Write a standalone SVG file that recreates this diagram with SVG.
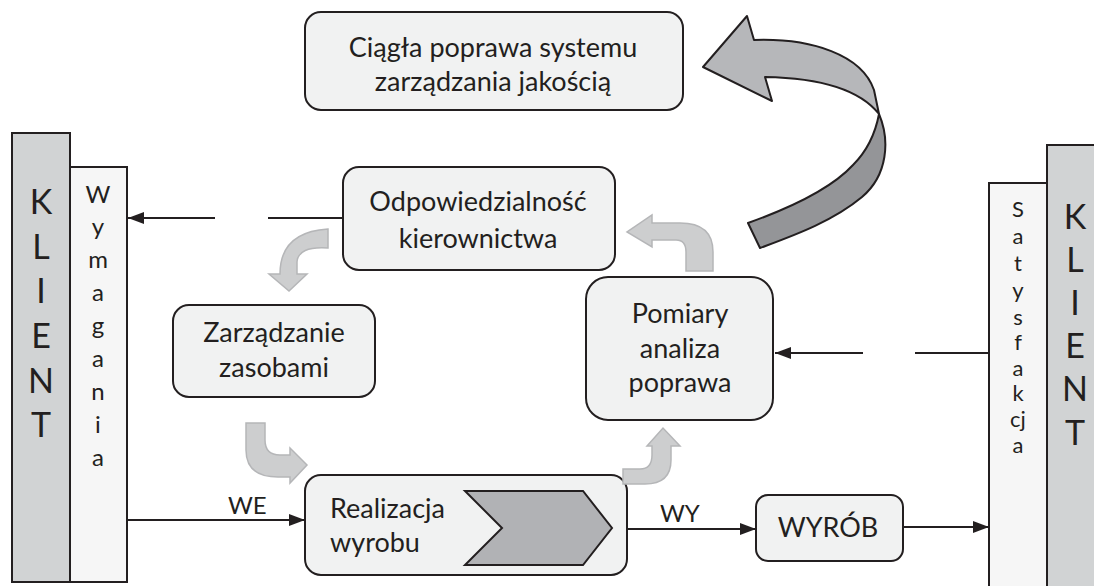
<svg xmlns="http://www.w3.org/2000/svg" width="1094" height="586" viewBox="0 0 1094 586">
<defs>
<style>
.t{font-family:Lato,"Liberation Sans",sans-serif;fill:#231f20}
.box{fill:#f1f2f2;stroke:#231f20;stroke-width:2}
.klient{fill:#d1d3d4;stroke:#231f20;stroke-width:2}
.panel{fill:#f6f6f6;stroke:#231f20;stroke-width:2}
.ln{stroke:#231f20;stroke-width:2;fill:none}
.lg{fill:#cdcecf;stroke:#b5b6b8;stroke-width:1.5}
.big1{fill:#b6b7ba;stroke:#231f20;stroke-width:2;stroke-linejoin:round}
.big2{fill:#949598;stroke:#231f20;stroke-width:2;stroke-linejoin:round}
</style>
<marker id="ah2" viewBox="0 0 16 12" refX="16" refY="6" markerWidth="16" markerHeight="12" markerUnits="userSpaceOnUse" orient="auto">
<path d="M0,0 L16,6 L0,12 Z" fill="#231f20"/>
</marker>
</defs>

<g id="klient-left">
<rect class="klient" x="12" y="133" width="58" height="449"/>
<rect class="panel" x="70" y="167" width="57" height="415"/>
<g class="t" font-size="34" text-anchor="middle">
<text x="41" y="214">K</text><text x="41" y="259">L</text><text x="41" y="303">I</text>
<text x="41" y="348">E</text><text x="41" y="393">N</text><text x="41" y="437">T</text>
</g>
<g class="t" font-size="24" text-anchor="middle">
<text x="98" y="203">W</text><text x="98" y="235">y</text><text x="98" y="268">m</text>
<text x="98" y="301">a</text><text x="98" y="334">g</text><text x="98" y="367">a</text>
<text x="98" y="400">n</text><text x="98" y="433">i</text><text x="98" y="466">a</text>
</g>
</g>

<g id="klient-right">
<rect class="klient" x="1047" y="145" width="60" height="450"/>
<rect class="panel" x="989" y="183" width="58" height="412"/>
<g class="t" font-size="34" text-anchor="middle">
<text x="1075" y="229">K</text><text x="1075" y="272">L</text><text x="1075" y="315">I</text>
<text x="1075" y="358">E</text><text x="1075" y="401">N</text><text x="1075" y="445">T</text>
</g>
<g class="t" font-size="22" text-anchor="middle">
<text x="1018" y="217">S</text><text x="1018" y="244">a</text><text x="1018" y="271">t</text>
<text x="1018" y="298">y</text><text x="1018" y="325">s</text><text x="1018" y="350">f</text>
<text x="1018" y="376">a</text><text x="1018" y="401">k</text><text x="1018" y="427">cj</text>
<text x="1018" y="453">a</text>
</g>
</g>

<g id="ciagla">
<rect class="box" x="305" y="12" width="378" height="98" rx="16"/>
<text class="t" font-size="27" text-anchor="middle" x="493" y="57">Ciągła poprawa systemu</text>
<text class="t" font-size="27" text-anchor="middle" x="493" y="91">zarządzania jakością</text>
</g>

<g id="odpowiedzialnosc">
<rect class="box" x="343" y="167" width="272" height="103" rx="16"/>
<text class="t" font-size="27" text-anchor="middle" x="478" y="211">Odpowiedzialność</text>
<text class="t" font-size="27" text-anchor="middle" x="478" y="248">kierownictwa</text>
</g>

<g id="zarzadzanie">
<rect class="box" x="173" y="305" width="202" height="92" rx="16"/>
<text class="t" font-size="27" text-anchor="middle" x="274" y="342">Zarządzanie</text>
<text class="t" font-size="27" text-anchor="middle" x="274" y="377">zasobami</text>
</g>

<g id="pomiary">
<rect class="box" x="586" y="277" width="187" height="143" rx="22"/>
<text class="t" font-size="27" text-anchor="middle" x="680" y="323">Pomiary</text>
<text class="t" font-size="27" text-anchor="middle" x="680" y="358">analiza</text>
<text class="t" font-size="27" text-anchor="middle" x="680" y="392">poprawa</text>
</g>

<g id="realizacja">
<rect class="box" x="305" y="475" width="322" height="100" rx="16"/>
<polygon points="465,491 583,491 612,528 583,565 465,565 502,528" fill="#b1b2b5" stroke="#231f20" stroke-width="2"/>
<text class="t" font-size="27" x="330" y="518">Realizacja</text>
<text class="t" font-size="27" x="330" y="552">wyrobu</text>
</g>

<g id="wyrob">
<rect class="box" x="756" y="495" width="147" height="66" rx="12"/>
<text class="t" font-size="27" text-anchor="middle" x="828" y="537">WYRÓB</text>
</g>

<g id="connectors">
<line class="ln" x1="215" y1="218" x2="128" y2="218" marker-end="url(#ah2)"/>
<line class="ln" x1="268" y1="218" x2="343" y2="218"/>
<line class="ln" x1="863" y1="353" x2="775" y2="353" marker-end="url(#ah2)"/>
<line class="ln" x1="915" y1="353" x2="989" y2="353"/>
<line class="ln" x1="127" y1="520" x2="305" y2="520" marker-end="url(#ah2)"/>
<text class="t" font-size="24" x="228" y="514">WE</text>
<line class="ln" x1="627" y1="529" x2="756" y2="529" marker-end="url(#ah2)"/>
<text class="t" font-size="24" x="660" y="522">WY</text>
<line class="ln" x1="903" y1="527" x2="989" y2="527" marker-end="url(#ah2)"/>

<path class="lg" d="M328,229 L328,248 Q298,246 297,262 L297,274 L307,274 L289,291 L269,274 L280,274 Q280,232 328,229 Z"/>
<path class="lg" d="M246,423 L265,423 L265,440 Q265,455 280,455 L290,455 L290,448 L307,465 L290,483 L290,477 L278,477 Q246,477 246,450 Z"/>
<path class="lg" d="M623,469 L640,469 Q652,469 652,455 L652,446 L647,446 L663,428 L680,446 L671,446 L671,460 Q671,484 645,484 L623,484 Z"/>
<path class="lg" d="M686,271 L713,271 L713,252 Q713,223 680,223 L652,223 L652,215 L627,232 L652,247 L652,240 L676,240 Q686,240 686,252 Z"/>

<path class="big2" d="M879,114 C890,140 888,175 862,197 C832,222 792,236 760,248 L748,223 C790,208 830,190 853,165 C868,150 876,130 879,114 Z"/>
<path class="big1" d="M754,40 C812,38 862,55 874,90 L879,114 C860,90 822,78 765,77 L772,101 L703,67 L747,16 Z"/>
</g>
</svg>
